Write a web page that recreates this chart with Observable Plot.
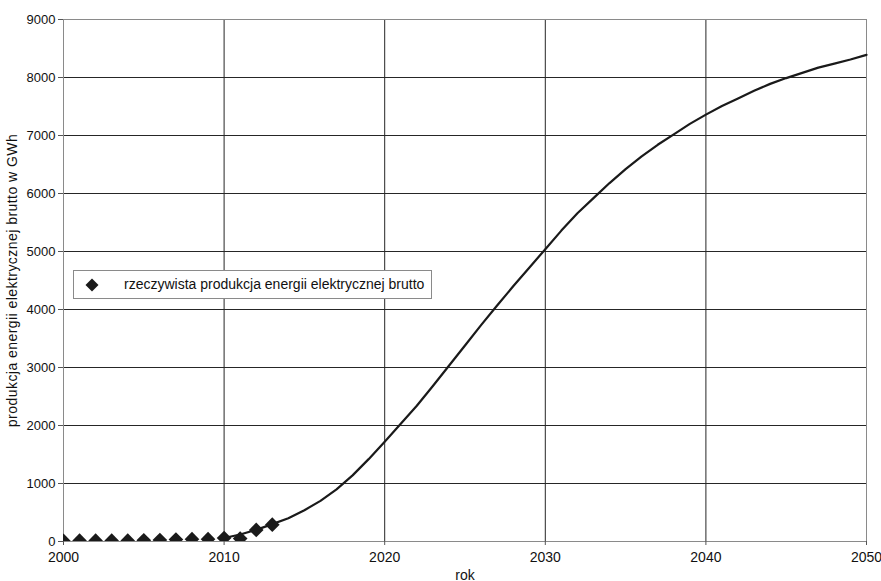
<!DOCTYPE html>
<html>
<head>
<meta charset="utf-8">
<script src="https://cdn.jsdelivr.net/npm/d3@7"></script>
<script src="https://cdn.jsdelivr.net/npm/@observablehq/plot@0.6"></script>
<style>
  html, body { margin: 0; padding: 0; background: #fff; }
  #wrap { position: relative; width: 881px; height: 581px; }
  #legend {
    position: absolute; left: 73px; top: 270px; width: 359px; height: 29px;
    border: 1px solid #8a8a8a; background: #fff; box-sizing: border-box;
    font-family: "Liberation Sans", Arial, sans-serif; font-size: 14px; color: #111;
  }
  #legend svg { position: absolute; left: 10px; top: 6px; }
  #legend span { position: absolute; left: 50px; top: 5px; white-space: nowrap; }
</style>
</head>
<body>
<div id="wrap"></div>
<script>
// actual gross electricity production (diamonds)
const actualYears = [2000, 2001, 2002, 2003, 2004, 2005, 2006, 2007, 2008, 2009, 2010, 2011, 2012, 2013];
const actualValues = [10, 15, 15, 15, 15, 20, 25, 35, 40, 40, 60, 50, 200, 290];

// forecast curve
const forecastYears = d3.range(2010, 2051);
const forecastValues = [60, 120, 200, 300, 400, 540, 700, 900, 1140, 1420,
  1720, 2030, 2340, 2680, 3030, 3380, 3730, 4070, 4400, 4720,
  5040, 5360, 5660, 5920, 6180, 6420, 6640, 6840, 7020, 7200,
  7360, 7510, 7640, 7770, 7890, 7990, 8080, 8170, 8240, 8310, 8390];

const xTicks = [2000, 2010, 2020, 2030, 2040, 2050];
const yTicks = [0, 1000, 2000, 3000, 4000, 5000, 6000, 7000, 8000, 9000];

const legendLabel = "rzeczywista produkcja energii elektrycznej brutto";
const xLabel = "rok";
const yLabel = "produkcja energii elektrycznej brutto w GWh";

const actual = actualYears.map((y, i) => ({year: y, value: actualValues[i]}));
const forecast = forecastYears.map((y, i) => ({year: y, value: forecastValues[i]}));

const regular = '"Liberation Sans", Arial, sans-serif';

const chart = Plot.plot({
  width: 881,
  height: 581,
  marginLeft: 63,
  marginRight: 15,
  marginTop: 19,
  marginBottom: 40,
  style: {fontFamily: regular, fontSize: "13px", color: "#111", background: "#fff"},
  x: {domain: [2000, 2050], ticks: xTicks, tickFormat: "d"},
  y: {domain: [0, 9000], ticks: yTicks, tickFormat: "d"},
  marks: [
    Plot.gridX(xTicks, {stroke: "#262626", strokeOpacity: 1, strokeWidth: 1}),
    Plot.gridY(yTicks, {stroke: "#262626", strokeOpacity: 1, strokeWidth: 1}),
    Plot.frame({stroke: "#8a8a8a", strokeWidth: 1}),
    Plot.axisX({ticks: xTicks, tickFormat: "d", tickSize: 4, tickPadding: 7, stroke: "#555",
      fontSize: 14, label: xLabel, labelAnchor: "center", labelArrow: false, labelOffset: 38}),
    Plot.axisY({ticks: yTicks, tickFormat: "d", tickSize: 5, tickPadding: 3, stroke: "#555",
      fontSize: 13, label: yLabel, labelAnchor: "center", labelArrow: false, labelOffset: 56}),
    Plot.line(forecast, {x: "year", y: "value", stroke: "#1a1a1a", strokeWidth: 2.2}),
    Plot.dot(actual, {x: "year", y: "value", symbol: "diamond2", r: 6.6, fill: "#1a1a1a", stroke: "none", clip: "frame"})
  ]
});

const wrap = document.getElementById("wrap");
wrap.appendChild(chart);

// y title: slightly wider letter spacing as in the reference
const yl = chart.querySelector('[aria-label="y-axis label"]');
if (yl) { yl.style.fontSize = "14px"; yl.style.letterSpacing = "0.45px"; }

const legend = document.createElement("div");
legend.id = "legend";
legend.innerHTML = `<svg width="16" height="16" viewBox="-8 -8 16 16"><path d="M0,-6.5L6.5,0L0,6.5L-6.5,0Z" fill="#1a1a1a"/></svg><span></span>`;
legend.querySelector("span").textContent = legendLabel;
wrap.appendChild(legend);
</script>
</body>
</html>
